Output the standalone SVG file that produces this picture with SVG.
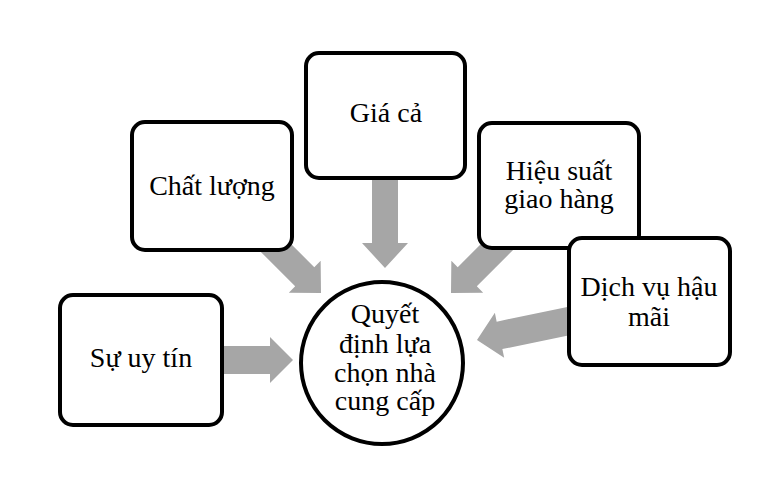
<svg xmlns="http://www.w3.org/2000/svg" width="765" height="484" viewBox="0 0 765 484">
<style>
.box{fill:#fff;stroke:#000;stroke-width:4}
.arr{fill:#a6a6a6}
text{font-family:"Liberation Serif","Times New Roman",serif;font-size:28px;fill:#000;text-anchor:middle}
</style>
<rect width="765" height="484" fill="#fff"/>
<g id="connectors">
<polygon class="arr" transform="translate(293,360)" points="-71,-14 -23,-14 -23,-23 0,0 -23,23 -23,14 -71,14"/>
<polygon class="arr" transform="translate(385,268) rotate(90)" points="-95,-13 -25,-13 -25,-23 0,0 -25,23 -25,13 -95,13"/>
<polygon class="arr" transform="translate(321,293) rotate(45)" points="-80,-13.5 -23,-13.5 -23,-22.5 0,0 -23,22.5 -23,13.5 -80,13.5"/>
<polygon class="arr" transform="translate(451,293) rotate(135)" points="-75,-13.5 -23,-13.5 -23,-22.5 0,0 -23,22.5 -23,13.5 -75,13.5"/>
<polygon class="arr" transform="translate(477,340) rotate(168.3)" points="-105,-14 -23,-14 -23,-23 0,0 -23,23 -23,14 -105,14"/>
</g>
<g id="chat-luong">
<rect class="box" x="132" y="122" width="160" height="128" rx="13"/>
<text x="212" y="195">Chất lượng</text>
</g>
<g id="gia-ca">
<rect class="box" x="306" y="53" width="159" height="125" rx="13"/>
<text x="386" y="122">Giá cả</text>
</g>
<g id="hieu-suat">
<rect class="box" x="479" y="123" width="160" height="125" rx="13"/>
<text x="559" y="180">Hiệu suất</text>
<text x="559" y="208">giao hàng</text>
</g>
<g id="dich-vu">
<rect class="box" x="569" y="238" width="161" height="127" rx="13"/>
<text x="649" y="296">Dịch vụ hậu</text>
<text x="649" y="326">mãi</text>
</g>
<g id="su-uy-tin">
<rect class="box" x="60" y="295" width="162" height="130" rx="13"/>
<text x="141" y="367">Sự uy tín</text>
</g>
<g id="quyet-dinh">
<circle class="box" cx="382" cy="363" r="81"/>
<text x="385" y="323">Quyết</text>
<text x="385" y="353">định lựa</text>
<text x="385" y="382">chọn nhà</text>
<text x="385" y="410">cung cấp</text>
</g>
</svg>
